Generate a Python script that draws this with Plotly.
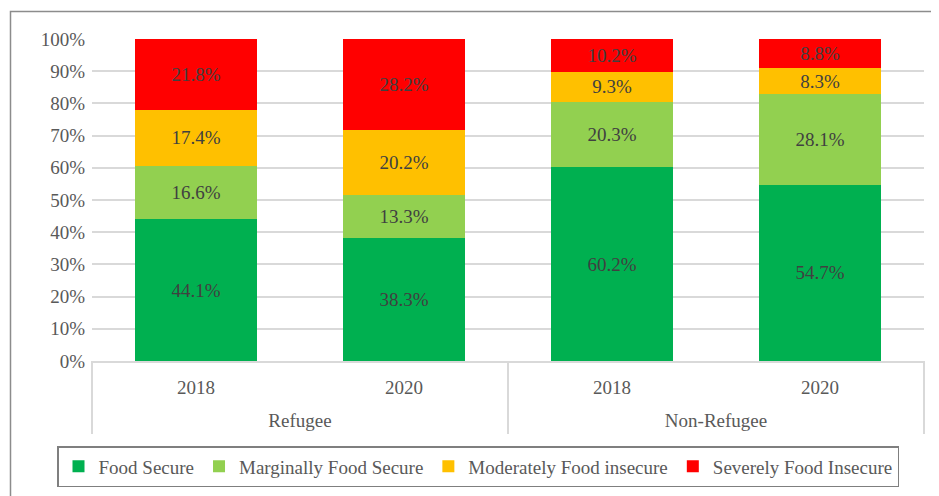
import plotly.graph_objects as go

groups = ["Refugee", "Refugee", "Non-Refugee", "Non-Refugee"]
years = ["2018", "2020", "2018", "2020"]
food_secure = [44.1, 38.3, 60.2, 54.7]
marginally_secure = [16.6, 13.3, 20.3, 28.1]
moderately_insecure = [17.4, 20.2, 9.3, 8.3]
severely_insecure = [21.8, 28.2, 10.2, 8.8]

series = [
    ("Food Secure", food_secure, "#00b050"),
    ("Marginally Food Secure", marginally_secure, "#92d050"),
    ("Moderately Food insecure", moderately_insecure, "#ffc000"),
    ("Severely Food Insecure", severely_insecure, "#ff0000"),
]

FONT = "Liberation Serif, Times New Roman, serif"
FS = 19

# unique category keys for each bar, labelled by year on the axis
keys = [f"{g} {y}" for g, y in zip(groups, years)]
# group centres and boundaries in category index units
group_names = []
for g in groups:
    if g not in group_names:
        group_names.append(g)
group_centers, bounds = [], [-0.5]
for g in group_names:
    idx = [i for i, gg in enumerate(groups) if gg == g]
    group_centers.append(sum(idx) / len(idx))
    bounds.append(max(idx) + 0.5)
xr = [-0.5, len(keys) - 0.5]

fig = go.Figure()
for name, vals, color in series:
    fig.add_trace(go.Bar(
        name=name,
        x=keys,
        y=vals,
        marker=dict(color=color, line=dict(width=0)),
        texttemplate="%{y:.1f}%",
        textposition="inside",
        insidetextanchor="middle",
        textangle=0,
        textfont=dict(family=FONT, size=FS, color="#404040"),
    ))

# invisible helper trace so the group axis (x2) is drawn
fig.add_trace(go.Scatter(
    x=group_centers, y=[0] * len(group_centers), xaxis="x2", yaxis="y",
    mode="markers", marker=dict(size=1, opacity=0),
    showlegend=False, hoverinfo="skip",
))

# page body adds an 8px offset; figure is sized to fit the window
OFF = 8
W, H = 939 - OFF, 496 - OFF
L, R, T = 92 - OFF, 15, 39 - OFF
B = H - (434 - OFF)           # paper bottom = bottom of group dividers
pw, ph = W - L - R, H - T - B
dom0 = (H - B - (361 - OFF)) / ph  # main axis line position

def px(x):
    return (x - OFF - L) / pw

def py(y):
    return (H - B - (y - OFF)) / ph

fig.update_layout(
    width=W, height=H,
    barmode="stack",
    bargap=0.41,
    margin=dict(l=L, r=R, t=T, b=B, pad=0, autoexpand=False),
    paper_bgcolor="white",
    plot_bgcolor="white",
    font=dict(family=FONT, size=FS, color="#595959"),
    uniformtext=dict(minsize=FS, mode="show"),
    showlegend=True,
    legend=dict(
        orientation="h",
        x=px(57), xanchor="left",
        y=py(446), yanchor="top",
        bordercolor="#7f7f7f", borderwidth=1.5,
        font=dict(family=FONT, size=19, color="#595959"),
        traceorder="normal",
        itemwidth=30,
    ),
    xaxis=dict(
        type="category",
        range=xr,
        tickvals=keys,
        ticktext=years,
        showgrid=False,
        showline=True,
        linecolor="#d9d9d9",
        linewidth=1.5,
        tickfont=dict(family=FONT, size=FS, color="#595959"),
        ticks="outside",
        ticklen=8,
        tickcolor="rgba(0,0,0,0)",
    ),
    xaxis2=dict(
        overlaying="x",
        anchor="free",
        position=0,
        type="linear",
        range=xr,
        tickvals=group_centers,
        ticktext=group_names,
        ticks="",
        ticklabelposition="inside",
        showgrid=False,
        showline=False,
        zeroline=False,
        tickfont=dict(family=FONT, size=FS, color="#595959"),
        minor=dict(tickvals=bounds, ticks="inside", ticklen=434 - 361,
                   tickcolor="#d9d9d9", tickwidth=1.5, showgrid=False),
    ),
    yaxis=dict(
        domain=[dom0, 1],
        range=[0, 100],
        dtick=10,
        ticksuffix="%",
        showgrid=True,
        gridcolor="#d9d9d9",
        gridwidth=1.5,
        zeroline=False,
        showline=False,
        tickfont=dict(family=FONT, size=FS, color="#595959"),
        ticklabelstandoff=6,
    ),
    shapes=[
        dict(type="rect", xref="paper", yref="paper",
             x0=px(10.5), x1=px(960), y0=py(520), y1=py(11.5),
             line=dict(color="#8c8c8c", width=1.5), fillcolor="rgba(0,0,0,0)",
             layer="below"),
    ],
)

fig.write_html("out.html")
